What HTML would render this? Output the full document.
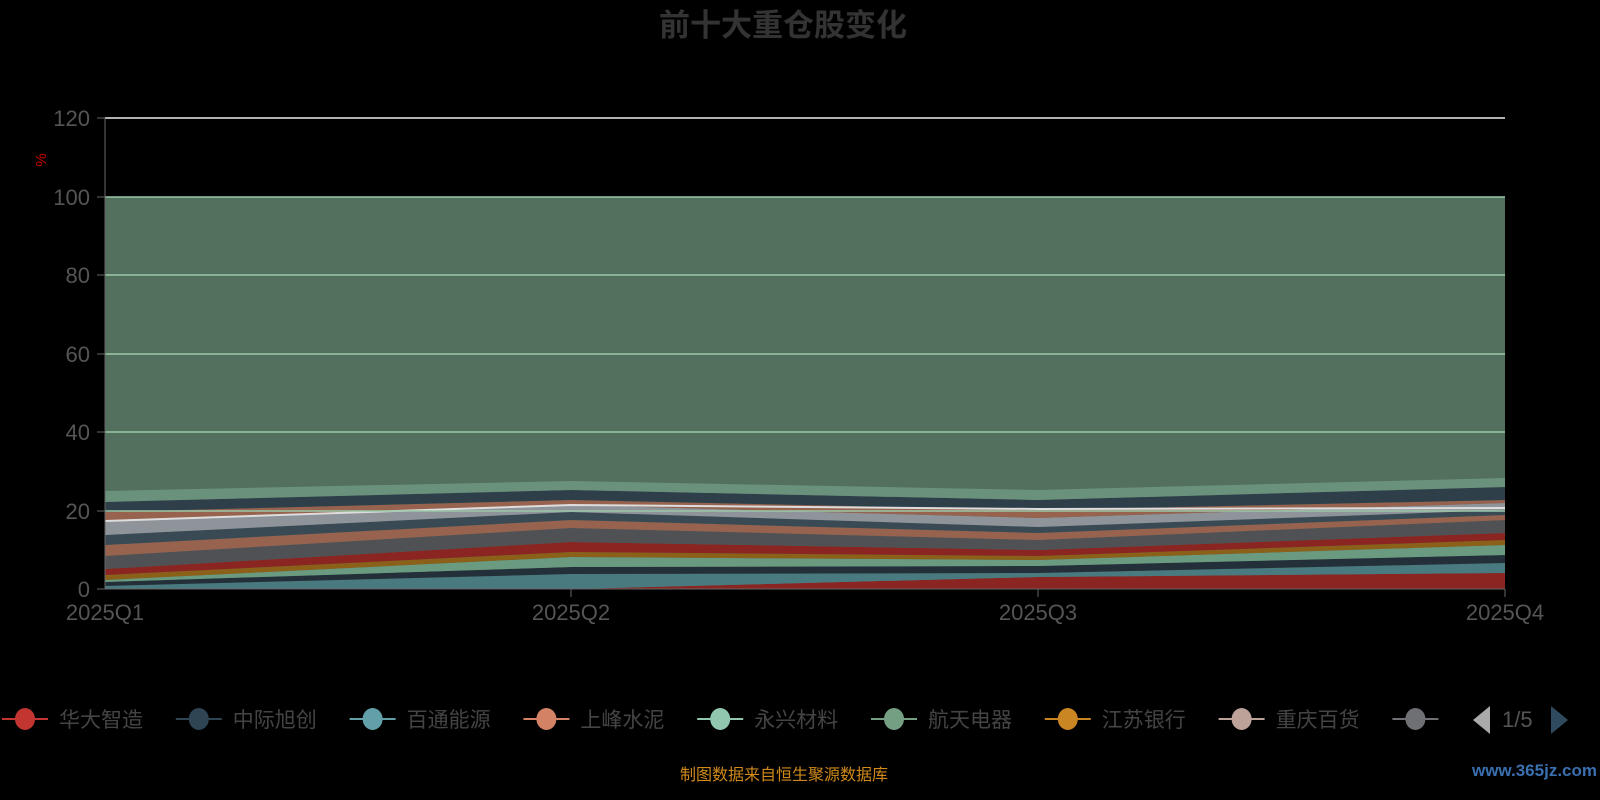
<!DOCTYPE html>
<html><head><meta charset="utf-8"><style>
html,body{margin:0;padding:0;background:#000;width:1600px;height:800px;overflow:hidden}
svg{display:block}
text{font-family:"Liberation Sans","Noto Sans CJK SC",sans-serif}
</style></head><body>
<svg id="s" width="1600" height="800" xmlns="http://www.w3.org/2000/svg">
<text x="783" y="36" text-anchor="middle" font-size="31" font-weight="bold" fill="#333">前十大重仓股变化</text>
<text x="42" y="164" font-size="15" fill="#c00" transform="rotate(-90 42 160)" text-anchor="middle">%</text>
<rect x="105" y="197" width="1400" height="392" fill="#52705d"/>
<g id="bands"></g>
<g stroke="#9cc8a8" stroke-width="1.5">
<line x1="105" x2="1505" y1="197" y2="197"/><line x1="105" x2="1505" y1="275" y2="275"/>
<line x1="105" x2="1505" y1="354" y2="354"/><line x1="105" x2="1505" y1="432" y2="432"/>
<line x1="105" x2="1505" y1="511" y2="511"/>
</g>
<line x1="105" x2="1505" y1="118" y2="118" stroke="#eee" stroke-width="1.5"/>
<line x1="105" x2="105" y1="118" y2="589" stroke="#666"/>
<line x1="105" x2="1505" y1="589" y2="589" stroke="#666"/>
<g stroke="#666"><line x1="97" x2="105" y1="118" y2="118"/><line x1="97" x2="105" y1="197" y2="197"/><line x1="97" x2="105" y1="275" y2="275"/><line x1="97" x2="105" y1="354" y2="354"/><line x1="97" x2="105" y1="432" y2="432"/><line x1="97" x2="105" y1="511" y2="511"/><line x1="97" x2="105" y1="589" y2="589"/>
<line x1="571" x2="571" y1="589" y2="597"/><line x1="1038" x2="1038" y1="589" y2="597"/><line x1="1505" x2="1505" y1="589" y2="597"/></g>
<g font-size="22" fill="#555" text-anchor="end">
<text x="90" y="126">120</text><text x="90" y="205">100</text><text x="90" y="283">80</text><text x="90" y="362">60</text><text x="90" y="440">40</text><text x="90" y="519">20</text><text x="90" y="597">0</text></g>
<g font-size="22" fill="#555" text-anchor="middle">
<text x="105" y="620">2025Q1</text><text x="571" y="620">2025Q2</text><text x="1038" y="620">2025Q3</text><text x="1505" y="620">2025Q4</text></g>
<g id="leg" font-size="21" fill="#444"></g>
<polygon points="1490,706 1490,734 1473,720" fill="#aaa"/>
<text x="1502" y="727" font-size="22" fill="#555">1/5</text>
<polygon points="1551,706 1551,734 1568,720" fill="#2f4a5e"/>
<text x="784" y="780" font-size="16" fill="#d08a1a" text-anchor="middle">制图数据来自恒生聚源数据库</text>
<text x="1597" y="776" font-size="17" font-weight="bold" fill="#3a6fb0" text-anchor="end" font-family="Liberation Serif,serif">www.365jz.com</text>
</svg>
<script>
var xs=[105,571,1038,1505];
// boundaries bottom->top, pixel y at 4 xs
var B=[
[589,589,589,589],
[589,589,577,573],
[586,574,573,563],
[582,567,566,555],
[580,557,560,545],
[575,552,556,540],
[569,542,550,533],
[556,528,540,520],
[545,520,533,515],
[535,512,527,510],
[521,505,518,503],
[512,500,510,500],
[502,490,500,487],
[491,481,490,478]];
var C=["#8b2522","#497a80","#23303a","#6a9a80","#8b611a","#8b2522","#4f5155","#97624e","#3a4a55","#8f939a","#97624e","#2f3f4a","#6a917c"];
var g=document.getElementById('bands'),ns="http://www.w3.org/2000/svg";
for(var i=0;i<C.length;i++){var p=[];for(var k=0;k<4;k++)p.push(xs[k]+","+B[i+1][k]);for(var k=3;k>=0;k--)p.push(xs[k]+","+B[i][k]);
var e=document.createElementNS(ns,'polygon');e.setAttribute('points',p.join(' '));e.setAttribute('fill',C[i]);g.appendChild(e);}
var L=document.createElementNS(ns,'polyline');L.setAttribute('points','105,521 571,505 1038,509 1505,508');L.setAttribute('stroke','#ddd');L.setAttribute('stroke-width','2');L.setAttribute('fill','none');g.appendChild(L);
var names=["华大智造","中际旭创","百通能源","上峰水泥","永兴材料","航天电器","江苏银行","重庆百货",""];
var cols=["#c23531","#2f4554","#61a0a8","#d48265","#91c7ae","#749f83","#ca8622","#bda29a","#6e7074"];
var lg=document.getElementById('leg');
for(var i=0;i<9;i++){var x0=2+i*173.8;
var l=document.createElementNS(ns,'line');l.setAttribute('x1',x0);l.setAttribute('x2',x0+46);l.setAttribute('y1',719);l.setAttribute('y2',719);l.setAttribute('stroke',cols[i]);l.setAttribute('stroke-width',2);lg.appendChild(l);
var c=document.createElementNS(ns,'ellipse');c.setAttribute('cx',x0+23);c.setAttribute('cy',719);c.setAttribute('rx',10);c.setAttribute('ry',11);c.setAttribute('fill',cols[i]);lg.appendChild(c);
if(names[i]){var t=document.createElementNS(ns,'text');t.setAttribute('x',x0+57);t.setAttribute('y',727);t.textContent=names[i];lg.appendChild(t);}}
</script>
</body></html>
